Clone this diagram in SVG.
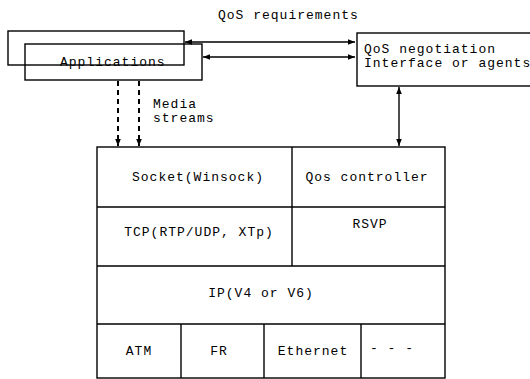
<svg xmlns="http://www.w3.org/2000/svg" width="530" height="379" viewBox="0 0 530 379">
  <style>
    .box { fill: none; stroke: #000; stroke-width: 1.4; }
    .ln { stroke: #000; stroke-width: 1.4; fill: none; }
    .dash { stroke: #000; stroke-width: 2; stroke-dasharray: 5 4; fill: none; }
    .t { font-family: "Liberation Mono", "DejaVu Sans Mono", monospace; font-size: 13px; letter-spacing: 1px; fill: #000; }
    .c { text-anchor: middle; }
  </style>
  <defs>
    <marker id="ah" viewBox="0 0 10 10" refX="10" refY="5" markerWidth="7" markerHeight="7" markerUnits="userSpaceOnUse" orient="auto-start-reverse">
      <path d="M0,1 L10,5 L0,9 Z" fill="#000"/>
    </marker>
  </defs>

  <rect width="530" height="379" fill="#fff"/>

  <text class="t" x="218" y="19">QoS requirements</text>

  <g id="applications">
    <rect class="box" x="8" y="31" width="176" height="34"/>
    <rect class="box" x="25" y="44" width="177" height="36"/>
    <text class="t" x="60" y="66">Applications</text>
  </g>

  <g id="qos-negotiation">
    <rect class="box" x="357" y="33" width="190" height="53"/>
    <text class="t" x="364" y="53">QoS negotiation</text>
    <text class="t" x="364" y="67">Interface or agents</text>
  </g>

  <g id="stack">
    <rect class="box" x="97" y="147" width="348" height="231"/>
    <line class="ln" x1="292" y1="147" x2="292" y2="266"/>
    <line class="ln" x1="97" y1="207" x2="445" y2="207"/>
    <line class="ln" x1="97" y1="266" x2="445" y2="266"/>
    <line class="ln" x1="97" y1="324" x2="445" y2="324"/>
    <line class="ln" x1="181" y1="324" x2="181" y2="378"/>
    <line class="ln" x1="264" y1="324" x2="264" y2="378"/>
    <line class="ln" x1="361" y1="324" x2="361" y2="378"/>
  </g>
  <g id="socket"><text class="t c" x="198" y="181">Socket(Winsock)</text></g>
  <g id="qos-controller"><text class="t c" x="367" y="181">Qos controller</text></g>
  <g id="tcp"><text class="t c" x="199" y="236">TCP(RTP/UDP, XTp)</text></g>
  <g id="rsvp"><text class="t c" x="370" y="228">RSVP</text></g>
  <g id="ip"><text class="t c" x="261" y="297">IP(V4 or V6)</text></g>
  <g id="atm"><text class="t c" x="139" y="355">ATM</text></g>
  <g id="fr"><text class="t c" x="219" y="355">FR</text></g>
  <g id="ethernet"><text class="t c" x="313" y="355">Ethernet</text></g>
  <g id="other"><text class="t c" x="392" y="352">- - -</text></g>

  <g id="connectors">
    <line class="ln" x1="185" y1="42" x2="355" y2="42" marker-start="url(#ah)" marker-end="url(#ah)"/>
    <line class="ln" x1="203" y1="57" x2="355" y2="57" marker-start="url(#ah)" marker-end="url(#ah)"/>
    <line class="ln" x1="399" y1="87" x2="399" y2="146" marker-start="url(#ah)" marker-end="url(#ah)"/>
    <line class="dash" x1="118" y1="81" x2="118" y2="146" marker-end="url(#ah)"/>
    <line class="dash" x1="139" y1="81" x2="139" y2="146" marker-end="url(#ah)"/>
    <text class="t" x="153" y="108">Media</text>
    <text class="t" x="153" y="122">streams</text>
  </g>
</svg>
